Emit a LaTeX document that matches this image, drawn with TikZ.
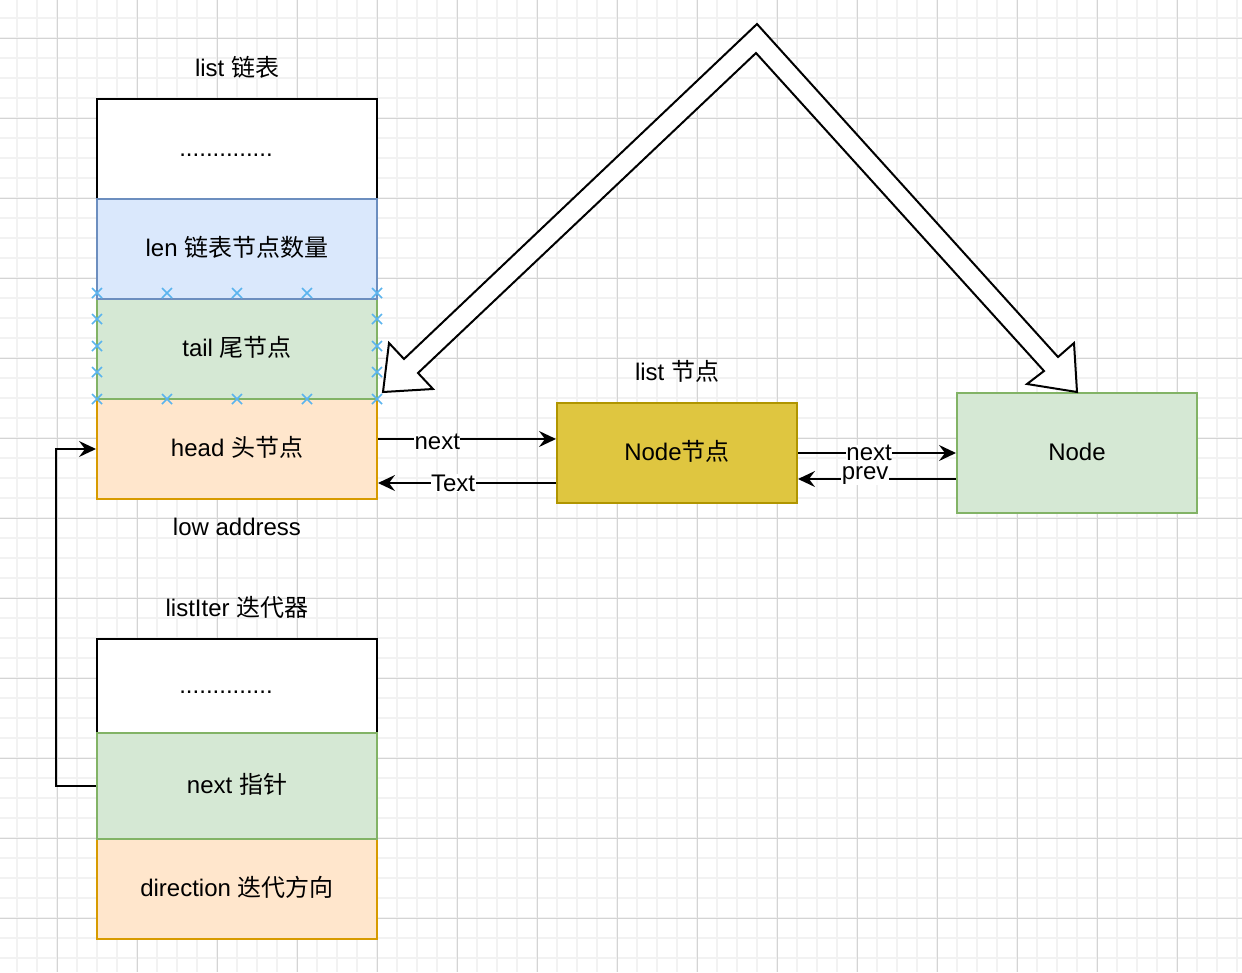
\documentclass[tikz,border=0pt]{standalone}
\usepackage{fontspec}
\setmainfont{Liberation Sans}
\newfontfamily\cjk{Noto Sans CJK SC}
\newcommand\zh[1]{{\cjk #1}}
\newcommand\dotrow{..............\kern22pt}
\usetikzlibrary{arrows.meta,calc}
\definecolor{bluefill}{HTML}{DAE8FC}
\definecolor{bluedraw}{HTML}{6C8EBF}
\definecolor{greenfill}{HTML}{D5E8D4}
\definecolor{greendraw}{HTML}{82B366}
\definecolor{orangefill}{HTML}{FFE6CC}
\definecolor{orangedraw}{HTML}{D79B00}
\definecolor{yellowfill}{HTML}{DFC640}
\definecolor{yellowdraw}{HTML}{B09500}
\definecolor{gridminor}{HTML}{F2F2F2}
\definecolor{gridmajor}{HTML}{D4D4D4}
\definecolor{handle}{HTML}{5AB4EE}
\tikzset{
  txt/.style={inner sep=0pt, font=\fontsize{24}{28}\selectfont},
  box/.style={txt, draw, line width=2pt, minimum width=280pt, minimum height=100pt,
              text height=18pt, text depth=3pt},
  whitebox/.style={box, fill=white, draw=black},
  bluebox/.style={box, fill=bluefill, draw=bluedraw},
  greenbox/.style={box, fill=greenfill, draw=greendraw},
  orangebox/.style={box, fill=orangefill, draw=orangedraw},
  conn/.style={line width=2pt, -{Stealth[length=17pt,width=16pt,inset=6pt]}},
  elabel/.style={txt, fill=white, inner sep=0.5pt},
  xmark/.style={draw=handle, line width=1.5pt}
}
\begin{document}
\begin{tikzpicture}[x=1pt,y=-1pt]
\useasboundingbox (0,0) rectangle (1242,972);
\fill[white] (0,0) rectangle (1242,972);
% grid
\foreach \x in {17,37,...,1237} \draw[gridminor, line width=1.5pt] (\x,0) -- (\x,972);
\foreach \y in {18,38,...,958} \draw[gridminor, line width=1.5pt] (0,\y) -- (1242,\y);
\foreach \x in {57,137,...,1217} \draw[gridmajor, line width=1pt] (\x,0) -- (\x,972);
\foreach \y in {38,118,...,918} \draw[gridmajor, line width=1pt] (0,\y) -- (1242,\y);

% list structure
\node[txt] (listtitle) at (237,67) {list \zh{链表}};
\node[whitebox] (ldots) at (237,149) {\dotrow};
\node[orangebox] (lhead) at (237,449) {head \zh{头节点}};
\node[greenbox] (ltail) at (237,349) {tail \zh{尾节点}};
\node[bluebox] (llen) at (237,249) {len \zh{链表节点数量}};
\node[txt] (lowaddr) at (237,527) {low address};

% selection handles on tail
\foreach \px/\py in {97/293,167/293,237/293,307/293,377/293,
                     97/399,167/399,237/399,307/399,377/399,
                     97/319,97/346,97/372,377/319,377/346,377/372}
  \draw[xmark] (\px-5,\py-5) -- (\px+5,\py+5) (\px-5,\py+5) -- (\px+5,\py-5);

% listIter structure
\node[txt] (itertitle) at (237,607) {listIter \zh{迭代器}};
\node[whitebox, minimum height=94pt] (idots) at (237,686) {\dotrow};
\node[orangebox] (idir) at (237,889) {direction \zh{迭代方向}};
\node[greenbox, minimum height=106pt] (inext) at (237,786) {next \zh{指针}};

% list nodes
\node[txt] (nodetitle) at (677,371) {list \zh{节点}};
\node[box, minimum width=240pt, fill=yellowfill, draw=yellowdraw] (nodeA) at (677,453) {Node\zh{节点}};
\node[greenbox, minimum width=240pt, minimum height=120pt] (nodeB) at (1077,453) {Node};

% connectors
\draw[conn] ($(lhead.east)+(0,-10)$) -- node[elabel, pos=0.333, yshift=-3pt] {next} ($(nodeA.west)+(0,-14)$);
\draw[conn] ($(nodeA.west)+(0,30)$) -- node[elabel, pos=0.578] {Text} ($(lhead.east)+(0,34)$);
\draw[conn] (nodeA.east) -- node[elabel, pos=0.45] {next} (nodeB.west);
\draw[conn] ($(nodeB.west)+(0,26)$) -- node[elabel, pos=0.575, yshift=3pt] {prev} ($(nodeA.east)+(0,26)$);
\draw[conn] (inext.west) -- ++(-40,0) |- (lhead.west);

% big double-headed flex arrow
\coordinate (apexout) at (757,24);
\coordinate (apexin) at (756,53);
\draw[line width=2pt, fill=white, line join=miter]
  (apexout) -- (1058,357) -- (1074,343) -- (1077,392) -- (1027,384) -- (1044,371)
  -- (apexin) -- (418,373) -- (433,389) -- (383,392) -- (389,343) -- (404,359) -- cycle;
\end{tikzpicture}
\end{document}
